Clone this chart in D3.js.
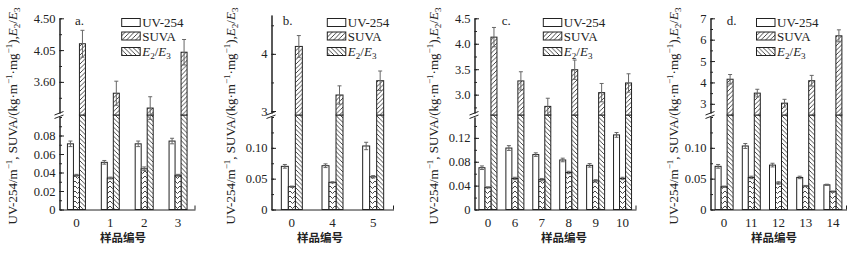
<!DOCTYPE html>
<html>
<head>
<meta charset="utf-8">
<script src="https://cdn.jsdelivr.net/npm/d3@7"></script>
<style>
  body { margin: 0; background: #fff; }
  text { font-family: "Liberation Serif", "Times New Roman", serif; fill: #222; }
  .cn { font-family: "Noto Sans CJK SC", sans-serif; }
</style>
</head>
<body>
<svg id="chart" width="856" height="253"></svg>
<script>
// sample numbers per panel
const samplesA = ['0', '1', '2', '3']
const samplesB = ['0', '4', '5']
const samplesC = ['0', '6', '7', '8', '9', '10']
const samplesD = ['0', '11', '12', '13', '14']

// UV-254 (m^-1)
const uvA = [0.071, 0.051, 0.071, 0.074]
const uvB = [0.070, 0.071, 0.103]
const uvC = [0.070, 0.103, 0.092, 0.083, 0.074, 0.125]
const uvD = [0.070, 0.103, 0.072, 0.052, 0.040]
const uvErrA = [0.003, 0.002, 0.003, 0.003]
const uvErrB = [0.003, 0.003, 0.006]
const uvErrC = [0.003, 0.004, 0.003, 0.003, 0.003, 0.004]
const uvErrD = [0.003, 0.004, 0.003, 0.002, 0.001]

// SUVA (kg m^-1 mg^-1)
const suvaA = [0.037, 0.034, 0.044, 0.037]
const suvaB = [0.037, 0.044, 0.053]
const suvaC = [0.037, 0.052, 0.050, 0.062, 0.048, 0.052]
const suvaD = [0.037, 0.052, 0.043, 0.038, 0.029]
const suvaErrA = [0.001, 0.001, 0.002, 0.001]
const suvaErrB = [0.001, 0.001, 0.002]
const suvaErrC = [0.001, 0.002, 0.002, 0.002, 0.002, 0.002]
const suvaErrD = [0.001, 0.002, 0.002, 0.001, 0.001]

// E2/E3
const e23A = [4.14, 3.44, 3.23, 4.02]
const e23B = [4.13, 3.28, 3.53]
const e23C = [4.13, 3.27, 2.77, 3.49, 3.04, 3.23]
const e23D = [4.15, 3.50, 3.03, 4.08, 6.18]
const e23ErrA = [0.19, 0.17, 0.16, 0.18]
const e23ErrB = [0.19, 0.16, 0.17]
const e23ErrC = [0.19, 0.18, 0.16, 0.19, 0.18, 0.18]
const e23ErrD = [0.22, 0.18, 0.18, 0.25, 0.28]

// axis ticks
const lowTicksA = [0, 0.02, 0.04, 0.06, 0.08]
const lowTicksB = [0, 0.05, 0.10]
const lowTicksC = [0, 0.04, 0.08, 0.12]
const lowTicksD = [0, 0.05, 0.10]
const upTicksA = [3.60, 4.05, 4.50]
const upTicksB = [3, 4]
const upTicksC = [3.0, 3.5, 4.0, 4.5]
const upTicksD = [3, 4, 5, 6, 7]

const svg = d3.select('#chart')
const ink = '#222'
const Y0 = 209.5, LOW_TOP = 117, UP_BOT = 113, JOIN = 115

// hatch patterns
const defs = svg.append('defs')
function pattern(id, size, d) {
  const p = defs.append('pattern').attr('id', id)
    .attr('patternUnits', 'userSpaceOnUse').attr('width', size).attr('height', size)
  p.append('rect').attr('width', size).attr('height', size).attr('fill', '#fff')
  p.append('path').attr('d', d).attr('stroke', '#333').attr('stroke-width', 0.9).attr('fill', 'none')
}
pattern('fwd', 4.5, 'M-1,1 l2,-2 M0,4.5 l4.5,-4.5 M3.5,5.5 l2,-2')
pattern('back', 4.5, 'M-1,3.5 l2,2 M0,0 l4.5,4.5 M3.5,-1 l2,2')
pattern('chev', 5, 'M0,1 L2.5,3.5 L5,1')

const panels = [
  { key: 'a.', samples: samplesA, uv: uvA, uvErr: uvErrA, suva: suvaA, suvaErr: suvaErrA, e23: e23A, e23Err: e23ErrA,
    lowTicks: lowTicksA, lowMinor: 0.01, lowMax: 0.1, upTicks: upTicksA, upMinor: 0.225, upDom: [3.16, 4.5], upTop: 18.3,
    x0: 59.5, x1: 195, bw: 6, titleX: 17, legX: 121.7, letterX: 75, cnX: 123 },
  { key: 'b.', samples: samplesB, uv: uvB, uvErr: uvErrB, suva: suvaB, suvaErr: suvaErrB, e23: e23B, e23Err: e23ErrB,
    lowTicks: lowTicksB, lowMinor: 0.025, lowMax: 0.15, upTicks: upTicksB, upMinor: 0.5, upDom: [2.965, 4.68], upTop: 15,
    x0: 271.5, x1: 393.5, bw: 7, titleX: 235, legX: 327.3, letterX: 282.7, cnX: 320 },
  { key: 'c.', samples: samplesC, uv: uvC, uvErr: uvErrC, suva: suvaC, suvaErr: suvaErrC, e23: e23C, e23Err: e23ErrC,
    lowTicks: lowTicksC, lowMinor: 0.02, lowMax: 0.155, upTicks: upTicksC, upMinor: 0.25, upDom: [2.64, 4.5], upTop: 18.3,
    x0: 474.5, x1: 636, bw: 6, titleX: 438, legX: 543.3, letterX: 501.7, cnX: 564 },
  { key: 'd.', samples: samplesD, uv: uvD, uvErr: uvErrD, suva: suvaD, suvaErr: suvaErrD, e23: e23D, e23Err: e23ErrD,
    lowTicks: lowTicksD, lowMinor: 0.025, lowMax: 0.15, upTicks: upTicksD, upMinor: 0.5, upDom: [2.57, 7], upTop: 18.3,
    x0: 710.5, x1: 846.5, bw: 6, titleX: 678, legX: 756.5, letterX: 726.7, cnX: 774 }
]

function styleAxis(g) {
  g.attr('font-family', null).attr('font-size', null)
  g.selectAll('path, line').attr('stroke', ink)
  g.selectAll('text').attr('font-size', 12.5).attr('fill', ink)
}

// E2/E3 label as tspans
function e23Label(t, size) {
  t.append('tspan').attr('font-style', 'italic').text('E')
  t.append('tspan').attr('font-size', size * 0.7).attr('dy', 3).text('2')
  t.append('tspan').attr('dy', -3).text('/')
  t.append('tspan').attr('font-style', 'italic').text('E')
  t.append('tspan').attr('font-size', size * 0.7).attr('dy', 3).text('3')
}

function sup(t, s, size) {
  t.append('tspan').attr('font-size', size * 0.7).attr('dy', -5).text(s)
}

function drawPanel(p) {
  const g = svg.append('g')
  const x = d3.scaleBand().domain(p.samples).range([p.x0, p.x1])
  const yLo = d3.scaleLinear().domain([0, p.lowMax]).range([Y0, LOW_TOP])
  const yUp = d3.scaleLinear().domain(p.upDom).range([UP_BOT, p.upTop])
  const series = d3.scaleBand().domain(['uv', 'suva', 'e23']).range([-1.5 * p.bw, 1.5 * p.bw])
  const cx = s => x(s) + x.bandwidth() / 2

  const rows = p.samples.map((s, i) => ({ s, uv: p.uv[i], uvErr: p.uvErr[i], suva: p.suva[i], suvaErr: p.suvaErr[i], e23: p.e23[i], e23Err: p.e23Err[i] }))

  // E2/E3 lower segment (runs up to the break) and upper segment
  g.selectAll('.e23lo').data(rows).join('rect')
    .attr('x', d => cx(d.s) + series('e23')).attr('width', series.bandwidth())
    .attr('y', JOIN).attr('height', Y0 - JOIN)
    .attr('fill', 'url(#back)').attr('stroke', ink)
  g.selectAll('.e23up').data(rows).join('rect')
    .attr('x', d => cx(d.s) + series('e23')).attr('width', series.bandwidth())
    .attr('y', d => yUp(d.e23)).attr('height', d => JOIN - yUp(d.e23))
    .attr('fill', 'url(#fwd)').attr('stroke', ink)

  g.selectAll('.uv').data(rows).join('rect')
    .attr('x', d => cx(d.s) + series('uv')).attr('width', series.bandwidth())
    .attr('y', d => yLo(d.uv)).attr('height', d => Y0 - yLo(d.uv))
    .attr('fill', '#fff').attr('stroke', ink)
  g.selectAll('.suva').data(rows).join('rect')
    .attr('x', d => cx(d.s) + series('suva')).attr('width', series.bandwidth())
    .attr('y', d => yLo(d.suva)).attr('height', d => Y0 - yLo(d.suva))
    .attr('fill', 'url(#chev)').attr('stroke', ink)

  // error bars
  const errs = []
  rows.forEach(d => {
    errs.push({ x: cx(d.s) + series('uv') + series.bandwidth() / 2, y1: yLo(d.uv - d.uvErr), y2: yLo(d.uv + d.uvErr) })
    errs.push({ x: cx(d.s) + series('suva') + series.bandwidth() / 2, y1: yLo(d.suva - d.suvaErr), y2: yLo(d.suva + d.suvaErr) })
    errs.push({ x: cx(d.s) + series('e23') + series.bandwidth() / 2, y1: yUp(d.e23 - d.e23Err), y2: yUp(d.e23 + d.e23Err) })
  })
  const eb = g.selectAll('.err').data(errs).join('g').attr('stroke', '#666').attr('stroke-width', 1)
  eb.append('line').attr('x1', d => d.x).attr('x2', d => d.x).attr('y1', d => d.y1).attr('y2', d => d.y2)
  eb.append('line').attr('x1', d => d.x - 2).attr('x2', d => d.x + 2).attr('y1', d => d.y2).attr('y2', d => d.y2)
  eb.append('line').attr('x1', d => d.x - 2).attr('x2', d => d.x + 2).attr('y1', d => d.y1).attr('y2', d => d.y1)

  // y axis, lower part
  const lowMinor = d3.range(0, p.lowMax + 1e-9, p.lowMinor)
  g.append('g').attr('transform', `translate(${p.x0},0)`)
    .call(d3.axisLeft(yLo).tickValues(lowMinor).tickSize(-2.5).tickFormat('').tickSizeOuter(0))
    .call(styleAxis)
  g.append('g').attr('transform', `translate(${p.x0},0)`)
    .call(d3.axisLeft(yLo).tickValues(p.lowTicks).tickSize(-4.5).tickPadding(4).tickSizeOuter(0)
      .tickFormat(d => d === 0 ? '0' : d3.format('.2f')(d)))
    .call(styleAxis)

  // y axis, upper part
  const upMinor = d3.range(Math.ceil(p.upDom[0] / p.upMinor - 1e-6) * p.upMinor, p.upDom[1] + 1e-9, p.upMinor)
  g.append('g').attr('transform', `translate(${p.x0},0)`)
    .call(d3.axisLeft(yUp).tickValues(upMinor).tickSize(-2.5).tickFormat('').tickSizeOuter(0))
    .call(styleAxis)
  const upFmt = p.key === 'a.' ? d3.format('.2f') : p.key === 'c.' ? d3.format('.1f') : d3.format('d')
  g.append('g').attr('transform', `translate(${p.x0},0)`)
    .call(d3.axisLeft(yUp).tickValues(p.upTicks).tickSize(-4.5).tickPadding(4).tickSizeOuter(0).tickFormat(upFmt))
    .call(styleAxis)

  // axis break marks
  g.append('path')
    .attr('d', `M${p.x0 - 5},${UP_BOT + 2} l9,-3.5 M${p.x0 - 5},${LOW_TOP + 1.5} l9,-3.5`)
    .attr('stroke', ink).attr('fill', 'none')

  // x axis
  g.append('g').attr('transform', `translate(0,${Y0})`)
    .call(d3.axisBottom(x).tickSize(0).tickPadding(8).tickSizeOuter(0))
    .call(styleAxis)
    .selectAll('text').attr('font-size', 13)
  g.append('line').attr('x1', p.x1).attr('x2', p.x1).attr('y1', Y0).attr('y2', Y0 - 4).attr('stroke', ink)

  // panel letter
  g.append('text').attr('x', p.letterX).attr('y', 25).attr('font-size', 13).text(p.key)

  // legend
  const leg = [
    { fill: '#fff', label: 'UV-254', y: 22.5 },
    { fill: 'url(#fwd)', label: 'SUVA', y: 36 },
    { fill: 'url(#back)', label: null, y: 51.5 }
  ]
  const lg = g.selectAll('.leg').data(leg).join('g')
  lg.append('rect').attr('x', p.legX).attr('y', d => d.y - 4).attr('width', 18.5).attr('height', 8)
    .attr('fill', d => d.fill).attr('stroke', ink)
  lg.append('text').attr('x', p.legX + 20.5).attr('y', d => d.y + 4.5).attr('font-size', 13)
    .each(function (d) {
      const t = d3.select(this)
      if (d.label) t.text(d.label)
      else e23Label(t, 13)
    })

  // y title
  const yt = g.append('text')
    .attr('transform', `translate(${p.titleX},116) rotate(-90)`)
    .attr('text-anchor', 'middle').attr('font-size', 13)
  yt.append('tspan').text('UV-254/m')
  sup(yt, '−1', 13)
  yt.append('tspan').attr('dy', 5).text(', SUVA/(kg·m')
  sup(yt, '−1', 13)
  yt.append('tspan').attr('dy', 5).text('·mg')
  sup(yt, '−1', 13)
  yt.append('tspan').attr('dy', 5).text('),')
  e23Label(yt, 13)

  // x title
  g.append('text').attr('class', 'cn').attr('x', p.cnX).attr('y', 242)
    .attr('text-anchor', 'middle').attr('font-size', 11.5).attr('font-weight', 600).text('样品编号')
}

panels.forEach(drawPanel)
</script>
</body>
</html>
